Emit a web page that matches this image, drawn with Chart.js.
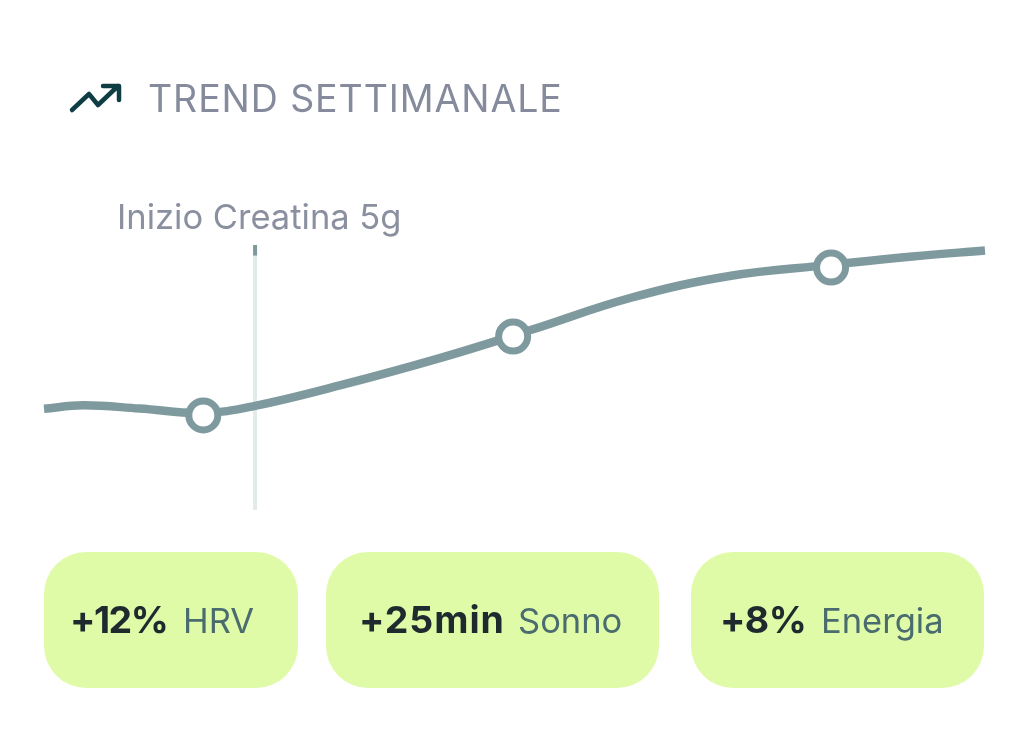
<!DOCTYPE html>
<html lang="it">
<head>
<meta charset="utf-8">
<title>Trend settimanale</title>
<script src="https://cdn.jsdelivr.net/npm/chart.js@4/dist/chart.umd.min.js"></script>
<style>
html,body{margin:0;padding:0;background:#fff;width:1028px;height:748px;overflow:hidden;font-family:Inter,"Noto Sans",sans-serif}
#wrap{position:absolute;left:0;top:0;width:1028px;height:748px}
canvas{position:absolute;left:0;top:0}
.title{position:absolute;left:148px;top:77px;font-size:37.5px;line-height:44px;color:#858b9c;letter-spacing:.9px;white-space:nowrap}
.note{position:absolute;left:117px;top:196px;font-size:34.5px;line-height:42px;color:#8a909f;white-space:nowrap}
svg{position:absolute;left:0;top:0}
.pill{position:absolute;top:552px;height:136px;border-radius:42px;background:#dffba8;white-space:nowrap}
.pill b{position:absolute;top:46px;line-height:44px;font-size:37.5px;font-weight:700;color:#1f2a2e}
.pill span{position:absolute;top:46px;line-height:46px;font-size:34.5px;color:#4b6c6f}
</style>
</head>
<body>
<div id="wrap">
<canvas id="c" width="1028" height="748"></canvas>
<svg width="1028" height="748" aria-hidden="true"><path d="M72 110 L89 94 L98 105 L118 86 M103 86 H119 V100" fill="none" stroke="#0f3d44" stroke-width="4.5" stroke-linecap="round" stroke-linejoin="round"/></svg>
<div class="title" id="title"></div>
<div class="note" id="note"></div>
<div id="pills"></div>
</div>
<script>
const dayValues=[0,.29,.71,1.18,1.57,2.2,2.95,3.62,4.36,5.1,5.85,6.46,7];
const trendValues=[38.2,39.5,38.3,36.6,39.3,47.0,57.4,67.9,80.0,88.3,92.5,95.7,97.9];
const markerDays=[1.185,3.49,5.855];
const markerValues=[35.7,65.5,91.5];
const startDay=[1.57];
const statValues=["+12%","+25min","+8%"];
const statLabels=["HRV","Sonno","Energia"];
const titleText="TREND SETTIMANALE";
const noteText="Inizio Creatina 5g";

document.getElementById('title').textContent=titleText;
document.getElementById('note').textContent=noteText;
// pill layout: left, width, value inset, value letter-spacing, label inset
const boxes=[[44,254,26,-1.5,139],[326,333,33,1,192],[691,293,29,-.6,130]];
const host=document.getElementById('pills');
statValues.forEach((v,i)=>{
  const d=document.createElement('div');d.className='pill';
  d.style.left=boxes[i][0]+'px';d.style.width=boxes[i][1]+'px';
  const b=document.createElement('b');b.textContent=v;b.style.left=boxes[i][2]+'px';b.style.letterSpacing=boxes[i][3]+'px';
  const s=document.createElement('span');s.textContent=statLabels[i];s.style.left=boxes[i][4]+'px';
  d.append(b,s);host.append(d);
});

const trend=dayValues.map((x,i)=>({x,y:trendValues[i]}));
const markers=markerDays.map((x,i)=>({x,y:markerValues[i]}));
new Chart(document.getElementById('c'),{
  type:'line',
  data:{datasets:[
    {label:'Marcatori',data:markers,showLine:false,pointRadius:14.5,pointBorderWidth:7,pointBorderColor:'#7f9a9f',pointBackgroundColor:'#fff',order:0,clip:false},
    {label:'Tendenza',data:trend,borderColor:'#7f9a9f',borderWidth:8.5,tension:0.4,borderCapStyle:'butt',pointRadius:0,order:1,clip:false},
    {label:'Segno',data:[{x:startDay[0],y:96},{x:startDay[0],y:100}],borderColor:'#7f9a9f',borderWidth:4,pointRadius:0,order:2,clip:false},
    {label:'Inizio',data:[{x:startDay[0],y:0},{x:startDay[0],y:100}],borderColor:'#e3eaea',borderWidth:4,pointRadius:0,order:3,clip:false}
  ]},
  options:{
    responsive:false,animation:false,
    layout:{padding:{left:44,right:43,top:245,bottom:238}},
    plugins:{legend:{display:false},tooltip:{enabled:false},title:{display:false}},
    scales:{
      x:{type:'linear',min:0,max:7,display:false},
      y:{type:'linear',min:0,max:100,display:false}
    }
  }
});
</script>
</body>
</html>
